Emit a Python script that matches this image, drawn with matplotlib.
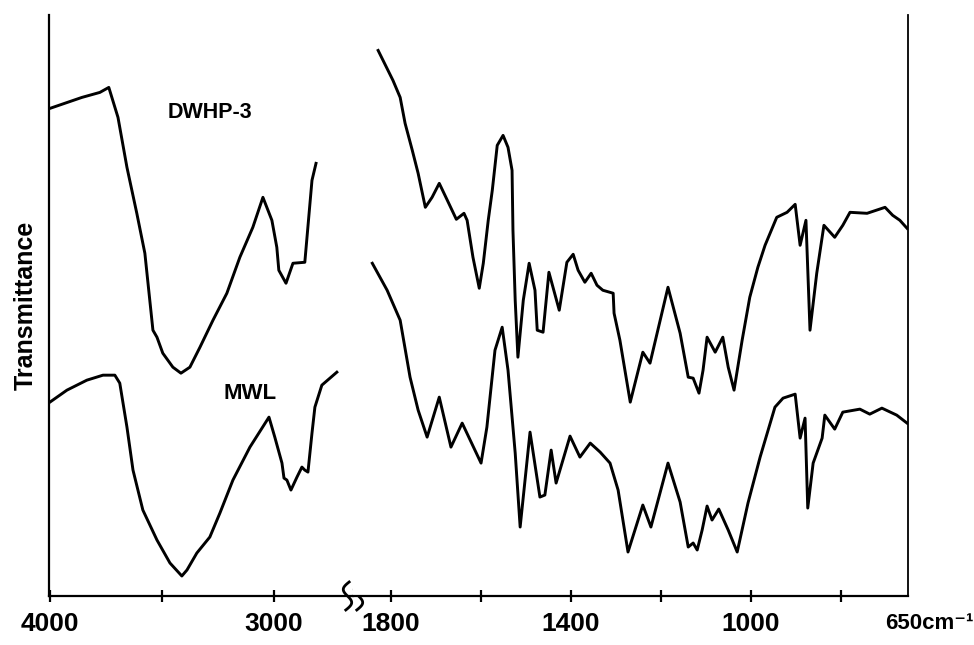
#!/usr/bin/env python3

import numpy as np
import matplotlib
matplotlib.use("Agg")
import matplotlib.pyplot as plt

# IR spectra: wavenumber (cm-1) vs transmittance (arbitrary units)
# high-wavenumber part (4000 - 2650 cm-1, half scale)
dwhp_hi_wn = [4000, 3857, 3777, 3737, 3696, 3656, 3612, 3576, 3562, 3540, 3522, 3496,
              3451, 3415, 3375, 3330, 3272, 3210, 3152, 3094, 3049, 3009, 2987, 2978,
              2946, 2915, 2862, 2839, 2830, 2812]
dwhp_hi_t = [48.8, 49.9, 50.4, 50.9, 47.9, 42.9, 38.3, 34.3, 31.3, 26.6, 25.9, 24.3,
             22.9, 22.3, 22.9, 24.9, 27.6, 30.3, 33.9, 36.9, 39.9, 37.6, 34.9, 32.6,
             31.3, 33.3, 33.4, 39.3, 41.6, 43.3]

mwl_hi_wn = [4000, 3924, 3835, 3763, 3710, 3688, 3656, 3629, 3585, 3522, 3464, 3411,
             3388, 3344, 3286, 3241, 3183, 3107, 3022, 2996, 2964, 2955, 2942, 2924,
             2897, 2875, 2862, 2848, 2830, 2817, 2786, 2719]
mwl_hi_t = [19.4, 20.6, 21.6, 22.1, 22.1, 21.3, 16.9, 12.6, 8.6, 5.6, 3.3, 2.0,
            2.6, 4.3, 5.9, 8.3, 11.6, 14.9, 17.9, 15.9, 13.3, 11.8, 11.6, 10.6,
            11.9, 12.9, 12.6, 12.4, 16.3, 18.9, 21.1, 22.4]

# fingerprint part (1850 - 650 cm-1)
dwhp_lo_wn = [1829, 1796, 1780, 1769, 1753, 1740, 1724, 1709, 1693, 1675, 1655, 1638,
              1631, 1618, 1604, 1595, 1584, 1575, 1564, 1551, 1540, 1531, 1529, 1524,
              1518, 1506, 1493, 1480, 1475, 1462, 1449, 1426, 1409, 1395, 1384, 1369,
              1355, 1342, 1329, 1306, 1304, 1291, 1268, 1240, 1224, 1184, 1157, 1139,
              1128, 1115, 1106, 1097, 1079, 1062, 1050, 1037, 1019, 1002, 984, 968,
              942, 919, 901, 890, 877, 868, 853, 837, 813, 795, 779, 741, 701, 684,
              668, 652]
dwhp_lo_t = [54.6, 51.6, 49.9, 47.3, 44.6, 42.3, 38.9, 39.9, 41.3, 39.6, 37.7, 38.3,
             37.6, 33.9, 30.8, 33.3, 37.6, 40.6, 45.1, 46.1, 44.9, 42.6, 36.6, 29.6,
             23.9, 29.6, 33.3, 30.6, 26.6, 26.4, 32.4, 28.6, 33.4, 34.2, 32.6, 31.4,
             32.3, 31.1, 30.6, 30.3, 28.3, 25.6, 19.4, 24.4, 23.3, 30.9, 26.3, 21.9,
             21.8, 20.3, 22.6, 25.9, 24.4, 25.9, 22.9, 20.6, 25.6, 29.9, 32.9, 35.1,
             37.9, 38.4, 39.2, 35.1, 37.6, 26.6, 32.3, 37.1, 35.9, 37.1, 38.4, 38.3,
             38.9, 38.1, 37.6, 36.8]

mwl_lo_wn = [1842, 1809, 1780, 1758, 1740, 1720, 1693, 1667, 1642, 1600, 1587, 1569,
             1553, 1540, 1524, 1513, 1491, 1469, 1458, 1444, 1433, 1402, 1380, 1357,
             1335, 1313, 1295, 1273, 1240, 1222, 1184, 1157, 1139, 1128, 1119, 1108,
             1097, 1086, 1071, 1050, 1030, 1006, 979, 946, 928, 901, 890, 879, 873,
             861, 841, 835, 813, 795, 757, 735, 708, 675, 652]
mwl_lo_t = [33.3, 30.6, 27.6, 21.9, 18.6, 15.9, 19.9, 14.9, 17.3, 13.3, 16.9, 24.6,
            26.9, 22.6, 14.3, 6.9, 16.4, 9.9, 10.1, 14.6, 11.3, 16.0, 13.9, 15.3,
            14.4, 13.3, 10.6, 4.4, 9.1, 6.9, 13.3, 9.4, 4.9, 5.3, 4.6, 6.6,
            9.0, 7.6, 8.7, 6.6, 4.4, 9.3, 13.9, 18.9, 19.8, 20.2, 15.8, 17.8, 8.8,
            13.3, 15.8, 18.1, 16.7, 18.4, 18.7, 18.2, 18.8, 18.1, 17.3]

hi_ticks = [4000, 3500, 3000]
hi_labels = ["4000", "", "3000"]
lo_ticks = [1800, 1600, 1400, 1200, 1000, 800]
lo_labels = ["1800", "", "1400", "", "1000", ""]


def break_mark(ax, fig):
    # two S-shaped squiggles across the bottom axis at the break (axes coords)
    bbox = ax.get_position()
    px_x = 1.0 / (bbox.width * fig.get_figwidth() * fig.dpi)
    px_y = 1.0 / (bbox.height * fig.get_figheight() * fig.dpi)
    t = np.linspace(0, 1, 80)
    for cx in (-5.5, 5.5):
        dy = 28 * (0.5 - t)
        dx = -5.0 * np.sin(2 * np.pi * t) + 0.12 * dy
        ax.plot(1.0 + (cx + dx) * px_x, dy * px_y, color="black", lw=2.0,
                transform=ax.transAxes, clip_on=False, zorder=5)


def main():
    plt.rcParams["font.family"] = ["Liberation Sans", "DejaVu Sans"]
    plt.rcParams["font.weight"] = "bold"

    fig = plt.figure(figsize=(9.74, 6.45), dpi=100)
    bottom, height = 0.076, 0.900
    ax1 = fig.add_axes([0.0503, bottom, 0.3121, height])
    ax2 = fig.add_axes([0.3624, bottom, 0.5698, height])

    lw = 2.1
    ax1.plot(dwhp_hi_wn, dwhp_hi_t, color="black", lw=lw, solid_joinstyle="round")
    ax1.plot(mwl_hi_wn, mwl_hi_t, color="black", lw=lw, solid_joinstyle="round")
    ax2.plot(dwhp_lo_wn, dwhp_lo_t, color="black", lw=lw, solid_joinstyle="round")
    ax2.plot(mwl_lo_wn, mwl_lo_t, color="black", lw=lw, solid_joinstyle="round")

    ax1.set_xlim(4004, 2647)
    ax2.set_xlim(1885, 650)
    for ax in (ax1, ax2):
        ax.set_ylim(0, 58.1)
        ax.set_yticks([])
        ax.spines["top"].set_visible(False)
        ax.spines["bottom"].set_linewidth(1.6)
        ax.tick_params(axis="x", direction="inout", length=9, width=1.6,
                       pad=7, labelsize=19)
    ax1.spines["right"].set_visible(False)
    ax1.spines["left"].set_linewidth(1.6)
    ax2.spines["left"].set_visible(False)
    ax2.spines["right"].set_linewidth(1.3)

    ax1.set_xticks(hi_ticks)
    ax1.set_xticklabels(hi_labels)
    ax2.set_xticks(lo_ticks)
    ax2.set_xticklabels(lo_labels)

    ax2.annotate("650cm\u207b\u00b9", xy=(650, 0), xycoords=("data", "axes fraction"),
                 xytext=(-23, -33), textcoords="offset pixels",
                 ha="left", va="baseline", fontsize=16, fontweight="bold")

    ax1.set_ylabel("Transmittance", fontsize=18, fontweight="bold", labelpad=8)

    ax1.text(3286, 48.4, "DWHP-3", ha="center", va="center", fontsize=15.5, fontweight="bold")
    ax1.text(3105, 20.3, "MWL", ha="center", va="center", fontsize=16, fontweight="bold")

    break_mark(ax1, fig)

    fig.savefig("out.png", dpi=100)


if __name__ == "__main__":
    main()
